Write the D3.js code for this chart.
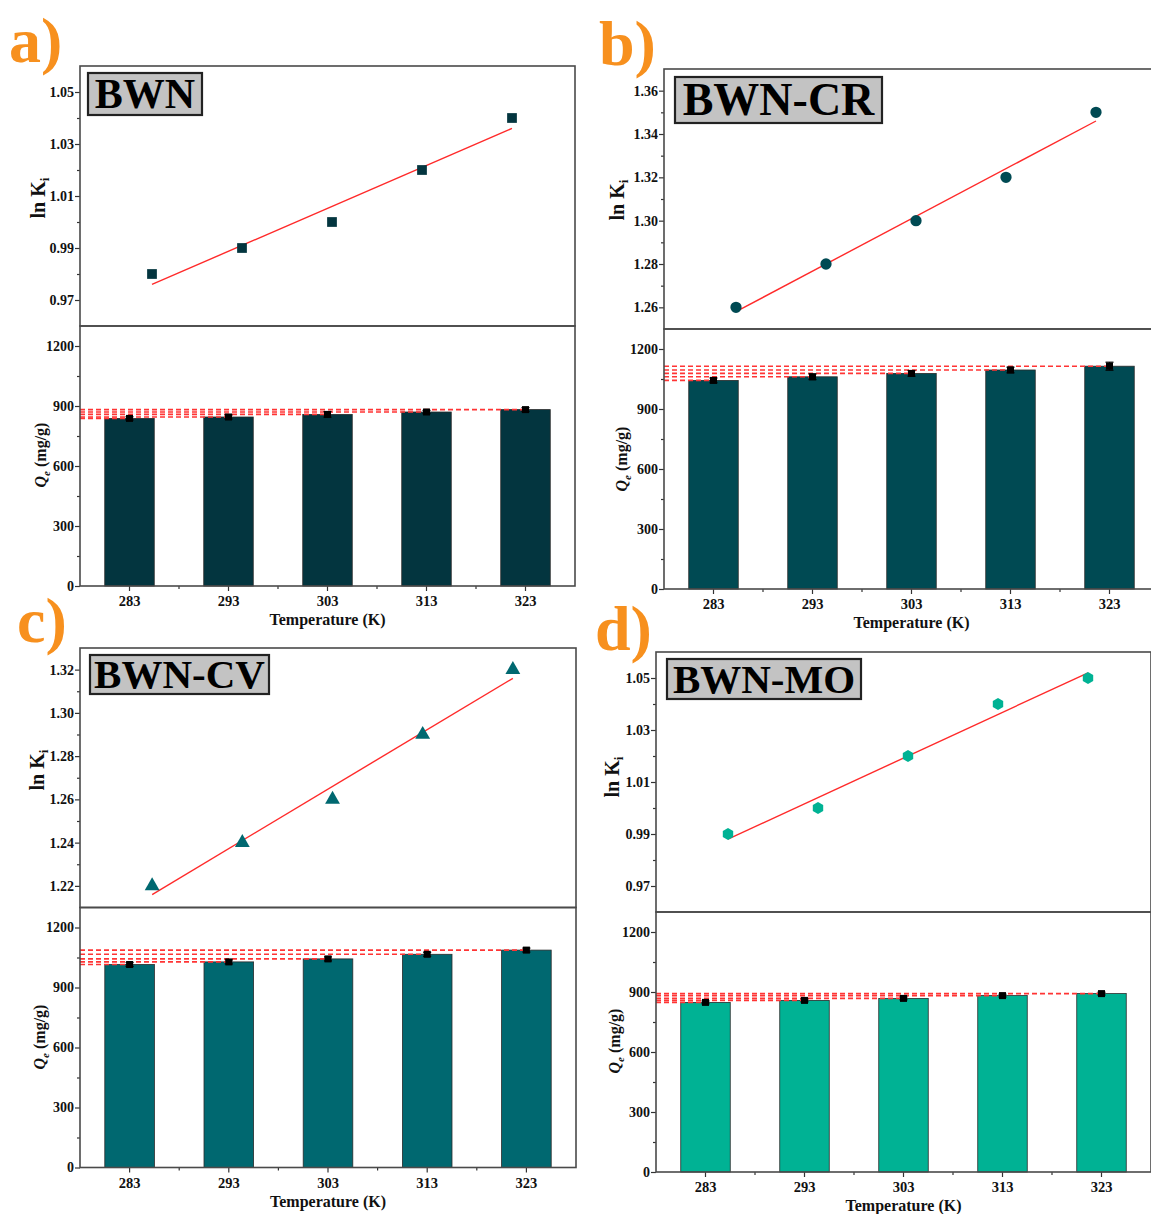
<!DOCTYPE html>
<html><head><meta charset="utf-8">
<script src="https://cdn.jsdelivr.net/npm/d3@7"></script>
<style>
body{margin:0;background:#fff}
svg{display:block}
</style>
</head><body>
<svg id="chart" width="1151" height="1214"></svg>
<script>
// ---------------- DATA ----------------
const temps = [283, 293, 303, 313, 323];
const tempLabels = ["283", "293", "303", "313", "323"];

const lnK_BWN = [0.98, 0.99, 1.00, 1.02, 1.04];
const lnK_CR  = [1.26, 1.28, 1.30, 1.32, 1.35];
const lnK_CV  = [1.22, 1.24, 1.26, 1.29, 1.32];
const lnK_MO  = [0.99, 1.00, 1.02, 1.04, 1.05];

const lnKDomain_BWN = [0.96, 1.06];
const lnKDomain_CR  = [1.25, 1.37];
const lnKDomain_CV  = [1.21, 1.33];
const lnKDomain_MO  = [0.96, 1.06];

const lnKTicks_BWN = [0.97, 0.99, 1.01, 1.03, 1.05];
const lnKTicks_CR  = [1.26, 1.28, 1.30, 1.32, 1.34, 1.36];
const lnKTicks_CV  = [1.22, 1.24, 1.26, 1.28, 1.30, 1.32];
const lnKTicks_MO  = [0.97, 0.99, 1.01, 1.03, 1.05];

const qe_BWN = [838, 845, 858, 870, 882];
const qe_CR  = [1043, 1061, 1078, 1095, 1114];
const qe_CV  = [1015, 1028, 1043, 1066, 1087];
const qe_MO  = [848, 858, 868, 882, 892];

const qeErr_BWN = [8, 10, 14, 8, 10];
const qeErr_CR  = [12, 14, 14, 14, 20];
const qeErr_CV  = [10, 10, 10, 10, 10];
const qeErr_MO  = [7, 7, 7, 7, 7];

const qeDomain = [0, 1300];
const qeTicks = [0, 300, 600, 900, 1200];
const tempDomain = [275, 330];

const panelTags = ["a)", "b)", "c)", "d)"];
const sampleNames = ["BWN", "BWN-CR", "BWN-CV", "BWN-MO"];

// ---------------- LAYOUT / STYLE ----------------
const SERIF = '"Liberation Serif","Times New Roman",serif';
const panels = [
  { tag: panelTags[0], name: sampleNames[0], lnK: lnK_BWN, dom: lnKDomain_BWN, ticks: lnKTicks_BWN,
    qe: qe_BWN, err: qeErr_BWN, color: "#03353f", mColor: "#03353f", marker: "square",
    L: 80, W: 495, top: 66, mid: 326, bot: 586,
    tagPos: [9, 62], box: [88, 73, 114, 42], boxFont: 42,
    lnLabel: [45, 198], qeLabel: [46, 455] },
  { tag: panelTags[1], name: sampleNames[1], lnK: lnK_CR, dom: lnKDomain_CR, ticks: lnKTicks_CR,
    qe: qe_CR, err: qeErr_CR, color: "#004a53", mColor: "#004a53", marker: "circle",
    L: 664, W: 495, top: 69, mid: 329, bot: 589,
    tagPos: [599, 65], box: [675, 77, 207, 46], boxFont: 46,
    lnLabel: [624, 200], qeLabel: [627, 459] },
  { tag: panelTags[2], name: sampleNames[2], lnK: lnK_CV, dom: lnKDomain_CV, ticks: lnKTicks_CV,
    qe: qe_CV, err: qeErr_CV, color: "#006870", mColor: "#006870", marker: "triangle",
    L: 80, W: 496, top: 648, mid: 907.5, bot: 1167.5,
    tagPos: [17, 642], box: [90, 655, 179, 39], boxFont: 41,
    lnLabel: [44, 770], qeLabel: [45, 1037] },
  { tag: panelTags[3], name: sampleNames[3], lnK: lnK_MO, dom: lnKDomain_MO, ticks: lnKTicks_MO,
    qe: qe_MO, err: qeErr_MO, color: "#00b294", mColor: "#00b294", marker: "hexagon",
    L: 656, W: 495, top: 652, mid: 912, bot: 1172,
    tagPos: [595, 650], box: [667, 659, 194, 40], boxFont: 41,
    lnLabel: [619, 777], qeLabel: [620, 1041] }
];

const svg = d3.select("#chart");
const FRAME = "#4a4a4a";

function styleAxis(g, size) {
  g.select(".domain").remove();
  g.selectAll("line").attr("stroke", "#333").attr("stroke-width", 1.2);
  g.selectAll("text").attr("font-family", SERIF).attr("font-weight", "bold")
    .attr("font-size", size).attr("fill", "#111");
}
function minorAxis(g) {
  g.select(".domain").remove();
  g.selectAll("text").remove();
  g.selectAll("line").attr("stroke", "#333").attr("stroke-width", 1.2);
}

function linReg(xs, ys) {
  const mx = d3.mean(xs), my = d3.mean(ys);
  const sxy = d3.sum(xs, (x, i) => (x - mx) * (ys[i] - my));
  const sxx = d3.sum(xs, x => (x - mx) * (x - mx));
  const b = sxy / sxx;
  return x => my + b * (x - mx);
}

panels.forEach(p => {
  const g = svg.append("g");
  const R = p.L + p.W;

  // ===== TOP: ln Ki scatter =====
  const x = d3.scaleLinear().domain(tempDomain).range([p.L, R]);
  const y = d3.scaleLinear().domain(p.dom).range([p.mid, p.top]);

  const step = p.ticks[1] - p.ticks[0];
  const minor = d3.range(p.ticks.length + 1).map(i => +(p.ticks[0] + (i - 0.5) * step).toFixed(4))
    .filter(v => v > p.dom[0] + 1e-9 && v < p.dom[1] - 1e-9);
  g.append("g").attr("transform", `translate(${p.L},0)`)
    .call(d3.axisLeft(y).tickValues(minor).tickSize(3))
    .call(minorAxis);
  g.append("g").attr("transform", `translate(${p.L},0)`)
    .call(d3.axisLeft(y).tickValues(p.ticks).tickSize(5).tickPadding(1).tickFormat(d3.format(".2f")))
    .call(a => styleAxis(a, 14));

  // fit line
  const f = linReg(temps, p.lnK);
  g.append("line")
    .attr("x1", x(temps[0])).attr("y1", y(f(temps[0])))
    .attr("x2", x(temps[temps.length - 1])).attr("y2", y(f(temps[temps.length - 1])))
    .attr("stroke", "#ff2a2a").attr("stroke-width", 1.4);

  // markers
  const pts = temps.map((t, i) => [x(t), y(p.lnK[i])]);
  if (p.marker === "hexagon") {
    const r = 6;
    g.selectAll(".hex").data(pts).join("path")
      .attr("d", d => "M" + d3.range(6).map(k => {
        const a = Math.PI / 6 + k * Math.PI / 3;
        return [d[0] + r * Math.cos(a), d[1] + r * Math.sin(a)];
      }).join("L") + "Z")
      .attr("fill", p.mColor);
  } else {
    const type = p.marker === "square" ? d3.symbolSquare : p.marker === "circle" ? d3.symbolCircle : d3.symbolTriangle;
    const size = p.marker === "square" ? 95 : p.marker === "circle" ? 100 : 95;
    g.selectAll(".mk").data(pts).join("path")
      .attr("transform", d => `translate(${d[0]},${d[1]})`)
      .attr("d", d3.symbol().type(type).size(size))
      .attr("fill", p.mColor);
  }

  // frame top
  g.append("rect").attr("x", p.L).attr("y", p.top).attr("width", p.W).attr("height", p.mid - p.top)
    .attr("fill", "none").attr("stroke", FRAME).attr("stroke-width", 1.6);

  // name box
  g.append("rect").attr("x", p.box[0]).attr("y", p.box[1]).attr("width", p.box[2]).attr("height", p.box[3])
    .attr("fill", "#c3c3c3").attr("stroke", "#222").attr("stroke-width", 2.2);
  g.append("text").attr("x", p.box[0] + p.box[2] / 2).attr("y", p.box[1] + (p.box[3] + p.boxFont * 0.66) / 2)
    .attr("text-anchor", "middle").attr("font-family", SERIF).attr("font-weight", "bold")
    .attr("font-size", p.boxFont).attr("fill", "#000").text(p.name);

  // ln Ki label
  const ln = g.append("text").attr("transform", `translate(${p.lnLabel[0]},${p.lnLabel[1]}) rotate(-90)`)
    .attr("text-anchor", "middle").attr("font-family", SERIF).attr("font-weight", "bold")
    .attr("font-size", 20).attr("fill", "#111");
  ln.append("tspan").text("ln K");
  ln.append("tspan").attr("font-size", 13).attr("dy", 4).text("i");

  // ===== BOTTOM: Qe bars =====
  const xb = d3.scaleBand().domain(tempLabels).range([p.L, R]).paddingInner(0.5).paddingOuter(0.25);
  const yb = d3.scaleLinear().domain(qeDomain).range([p.bot, p.mid]);
  const bw = xb.bandwidth();

  const qeMinor = qeTicks.map(v => v + (qeTicks[1] - qeTicks[0]) / 2).filter(v => v < qeDomain[1]);
  g.append("g").attr("transform", `translate(${p.L},0)`)
    .call(d3.axisLeft(yb).tickValues(qeMinor).tickSize(3))
    .call(minorAxis);
  g.append("g").attr("transform", `translate(${p.L},0)`)
    .call(d3.axisLeft(yb).tickValues(qeTicks).tickSize(5).tickPadding(1).tickFormat(d3.format("d")))
    .call(a => styleAxis(a, 14));
  g.append("g").attr("transform", `translate(0,${p.bot})`)
    .call(d3.axisBottom(xb).tickSize(5).tickPadding(5))
    .call(a => styleAxis(a, 14.5));
  // minor x ticks between categories
  const mids = tempLabels.slice(0, -1).map((t, i) => (xb(t) + xb(tempLabels[i + 1]) + bw) / 2);
  g.selectAll(".xminor").data(mids).join("line")
    .attr("x1", d => d).attr("x2", d => d).attr("y1", p.bot).attr("y2", p.bot + 3)
    .attr("stroke", "#333").attr("stroke-width", 1.2);

  // bars
  g.selectAll(".bar").data(p.qe).join("rect")
    .attr("x", (d, i) => xb(tempLabels[i])).attr("y", d => yb(d))
    .attr("width", bw).attr("height", d => p.bot - yb(d))
    .attr("fill", p.color).attr("stroke", "#2b2b2b").attr("stroke-width", 0.8);

  // dashed guide lines
  g.selectAll(".dash").data(p.qe).join("line")
    .attr("x1", p.L).attr("x2", (d, i) => xb(tempLabels[i]) + bw / 2)
    .attr("y1", d => yb(d)).attr("y2", d => yb(d))
    .attr("stroke", "#ff3434").attr("stroke-width", 1.6).attr("stroke-dasharray", "5,3");

  // error bars
  const eg = g.selectAll(".err").data(p.qe).join("g")
    .attr("transform", (d, i) => `translate(${xb(tempLabels[i]) + bw / 2},0)`);
  eg.append("line").attr("y1", (d, i) => yb(d - p.err[i])).attr("y2", (d, i) => yb(d + p.err[i]))
    .attr("stroke", "#000").attr("stroke-width", 1.2);
  eg.append("line").attr("x1", -4).attr("x2", 4).attr("y1", (d, i) => yb(d + p.err[i])).attr("y2", (d, i) => yb(d + p.err[i]))
    .attr("stroke", "#000").attr("stroke-width", 1.2);
  eg.append("line").attr("x1", -4).attr("x2", 4).attr("y1", (d, i) => yb(d - p.err[i])).attr("y2", (d, i) => yb(d - p.err[i]))
    .attr("stroke", "#000").attr("stroke-width", 1.2);
  eg.append("rect").attr("x", -3.5).attr("y", d => yb(d) - 3.5).attr("width", 7).attr("height", 7).attr("fill", "#000");

  // frame bottom
  g.append("rect").attr("x", p.L).attr("y", p.mid).attr("width", p.W).attr("height", p.bot - p.mid)
    .attr("fill", "none").attr("stroke", FRAME).attr("stroke-width", 1.6);

  // Qe label
  const ql = g.append("text").attr("transform", `translate(${p.qeLabel[0]},${p.qeLabel[1]}) rotate(-90)`)
    .attr("text-anchor", "middle").attr("font-family", SERIF).attr("font-weight", "bold")
    .attr("font-size", 16).attr("fill", "#111");
  ql.append("tspan").attr("font-style", "italic").text("Q");
  ql.append("tspan").attr("font-style", "italic").attr("font-size", 11).attr("dy", 4).text("e");
  ql.append("tspan").attr("dy", -4).text(" (mg/g)");

  // x title
  g.append("text").attr("x", p.L + p.W / 2).attr("y", p.bot + 39)
    .attr("text-anchor", "middle").attr("font-family", SERIF).attr("font-weight", "bold")
    .attr("font-size", 16).attr("fill", "#111").text("Temperature (K)");

  // panel tag
  g.append("text").attr("x", p.tagPos[0]).attr("y", p.tagPos[1])
    .attr("font-family", SERIF).attr("font-weight", "bold").attr("font-size", 64)
    .attr("fill", "#f7901e").text(p.tag);
});
</script>
</body></html>
